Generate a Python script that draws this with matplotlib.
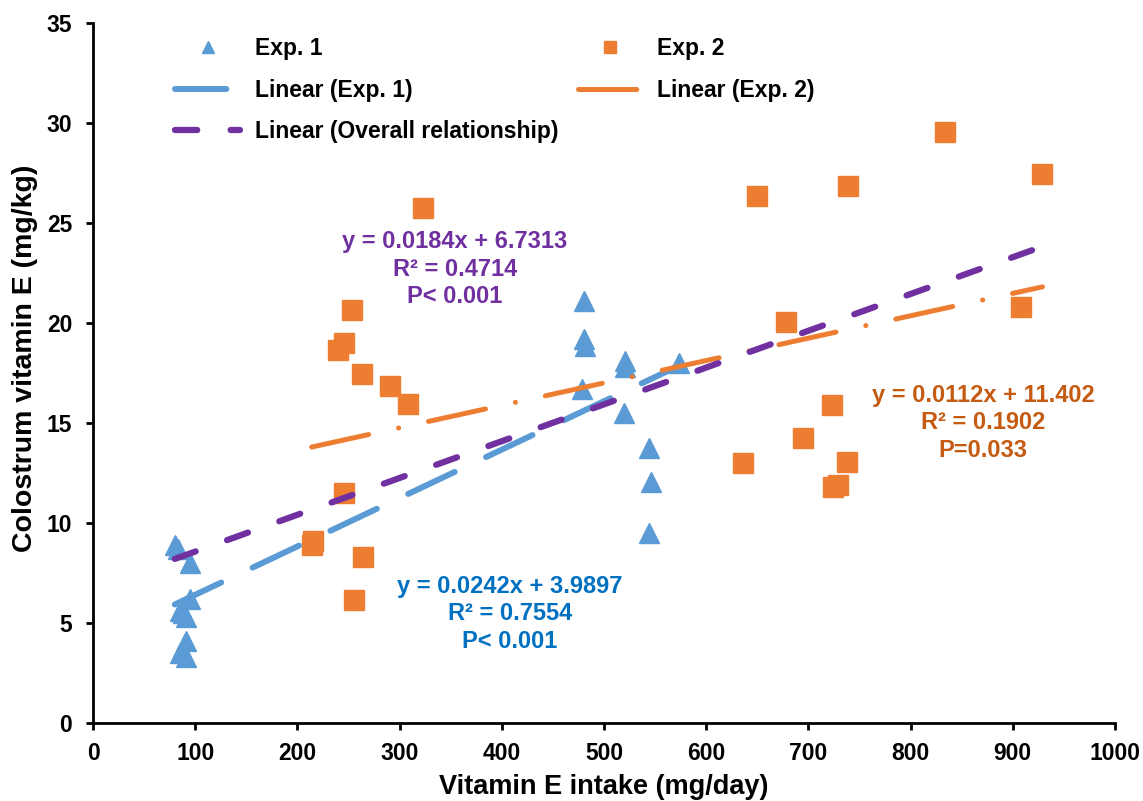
import matplotlib
matplotlib.use("Agg")
import matplotlib.pyplot as plt
import numpy as np

plt.rcParams['font.family'] = ['Liberation Sans', 'DejaVu Sans']
plt.rcParams['font.weight'] = 'bold'
plt.rcParams['lines.scale_dashes'] = False

# Exp. 1 data
exp1_x = [80, 83, 95, 95, 85, 88, 91, 91, 85, 91,
          480, 480, 481, 478, 521, 521, 520, 544, 546, 544, 573]
exp1_y = [8.9, 8.7, 8.0, 6.2, 5.6, 5.5, 5.3, 4.1, 3.5, 3.3,
          21.1, 19.2, 18.85, 16.7, 18.1, 17.8, 15.5, 13.75, 12.05, 9.5, 18.0]

# Exp. 2 data
exp2_x = [834, 929, 739, 650, 323, 253, 246, 240, 263, 291, 308,
          678, 908, 723, 695, 636, 738, 729, 724, 246, 215, 214, 264, 255]
exp2_y = [29.55, 27.45, 26.85, 26.35, 25.75, 20.65, 19.0, 18.65, 17.45, 16.85, 15.95,
          20.05, 20.8, 15.9, 14.25, 13.0, 13.05, 11.9, 11.8, 11.5, 9.1, 8.9, 8.3, 6.15]

# Trendline coefficients (slope, intercept)
fit1 = (0.0242, 3.9897)
fit2 = (0.0112, 11.402)
fit_all = (0.0184, 6.7313)

eq1 = "y = 0.0242x + 3.9897\nR² = 0.7554\nP< 0.001"
eq2 = "y = 0.0112x + 11.402\nR² = 0.1902\nP=0.033"
eq_all = "y = 0.0184x + 6.7313\nR² = 0.4714\nP< 0.001"

c_blue = '#5B9BD5'
c_orange = '#ED7D31'
c_purple = '#7030A0'

W, H = 1143, 801
fig = plt.figure(figsize=(W/100, H/100), dpi=100)
ax = fig.add_axes([93/W, 1-723/H, (1115-93)/W, (723-23)/H])

h1, = ax.plot(exp1_x, exp1_y, linestyle='none', marker='^', markersize=14.5,
              color=c_blue, label='Exp. 1', zorder=3)
h2, = ax.plot(exp2_x, exp2_y, linestyle='none', marker='s', markersize=14,
              color=c_orange, label='Exp. 2', zorder=3)

def trend(xs, fit):
    xx = np.array([min(xs), max(xs)], dtype=float)
    return xx, fit[0]*xx + fit[1]

all_x = exp1_x + exp2_x
x1, y1 = trend(exp1_x, fit1)
x2, y2 = trend(exp2_x, fit2)
xa, ya = trend(all_x, fit_all)

l1, = ax.plot(x1, y1, color=c_blue, lw=4.3, dashes=(37, 25),
              dash_capstyle='round', solid_capstyle='round', label='Linear (Exp. 1)', zorder=4)
l2, = ax.plot(x2, y2, color=c_orange, lw=3.6, dashes=(42, 22, 0.1, 22),
              dash_capstyle='round', solid_capstyle='round', label='Linear (Exp. 2)', zorder=4)
la, = ax.plot(xa, ya, color=c_purple, lw=4.5, dashes=(16, 24),
              dash_capstyle='round', solid_capstyle='round',
              label='Linear (Overall relationship)', zorder=5)

ax.set_xlim(0, 1000)
ax.set_ylim(0, 35)
ax.set_xticks(np.arange(0, 1001, 100))
ax.set_yticks(np.arange(0, 36, 5))
for s in ['top', 'right']:
    ax.spines[s].set_visible(False)
for s in ['left', 'bottom']:
    ax.spines[s].set_linewidth(2)
ax.tick_params(axis='both', direction='out', length=5, width=2, labelsize=16.5, pad=10)
ax.tick_params(axis='x', pad=9)
for lab in ax.get_xticklabels() + ax.get_yticklabels():
    lab.set_fontweight('bold')

ax.set_xlabel('Vitamin E intake (mg/day)', fontsize=19.5, fontweight='bold')
ax.set_ylabel('Colostrum vitamin E (mg/kg)', fontsize=20.5, fontweight='bold')
ax.xaxis.label.set_va('center')
ax.yaxis.label.set_va('center')
ax.xaxis.set_label_coords(0.5, (723-787)/700)
ax.yaxis.set_label_coords((25-93)/1022, (723-358)/700)

leg = fig.legend(handles=[h1, l1, la, h2, l2], ncol=2, loc='upper left',
                 bbox_to_anchor=(164/W, 1-26/H), frameon=False,
                 prop={'weight': 'bold', 'size': 16.5}, handlelength=2.8,
                 handletextpad=0.65, labelspacing=0.8, columnspacing=0.87,
                 borderpad=0, markerscale=0.6)

fig.text(455/W, 1-269/H, eq_all, color=c_purple, fontsize=17, fontweight='bold',
         ha='center', va='center', linespacing=1.25)
fig.text(510/W, 1-614/H, eq1, color='#0070C0', fontsize=17, fontweight='bold',
         ha='center', va='center', linespacing=1.25)
fig.text(983/W, 1-423/H, eq2, color='#C55A11', fontsize=17, fontweight='bold',
         ha='center', va='center', linespacing=1.25)

fig.savefig('out.png', dpi=100)
